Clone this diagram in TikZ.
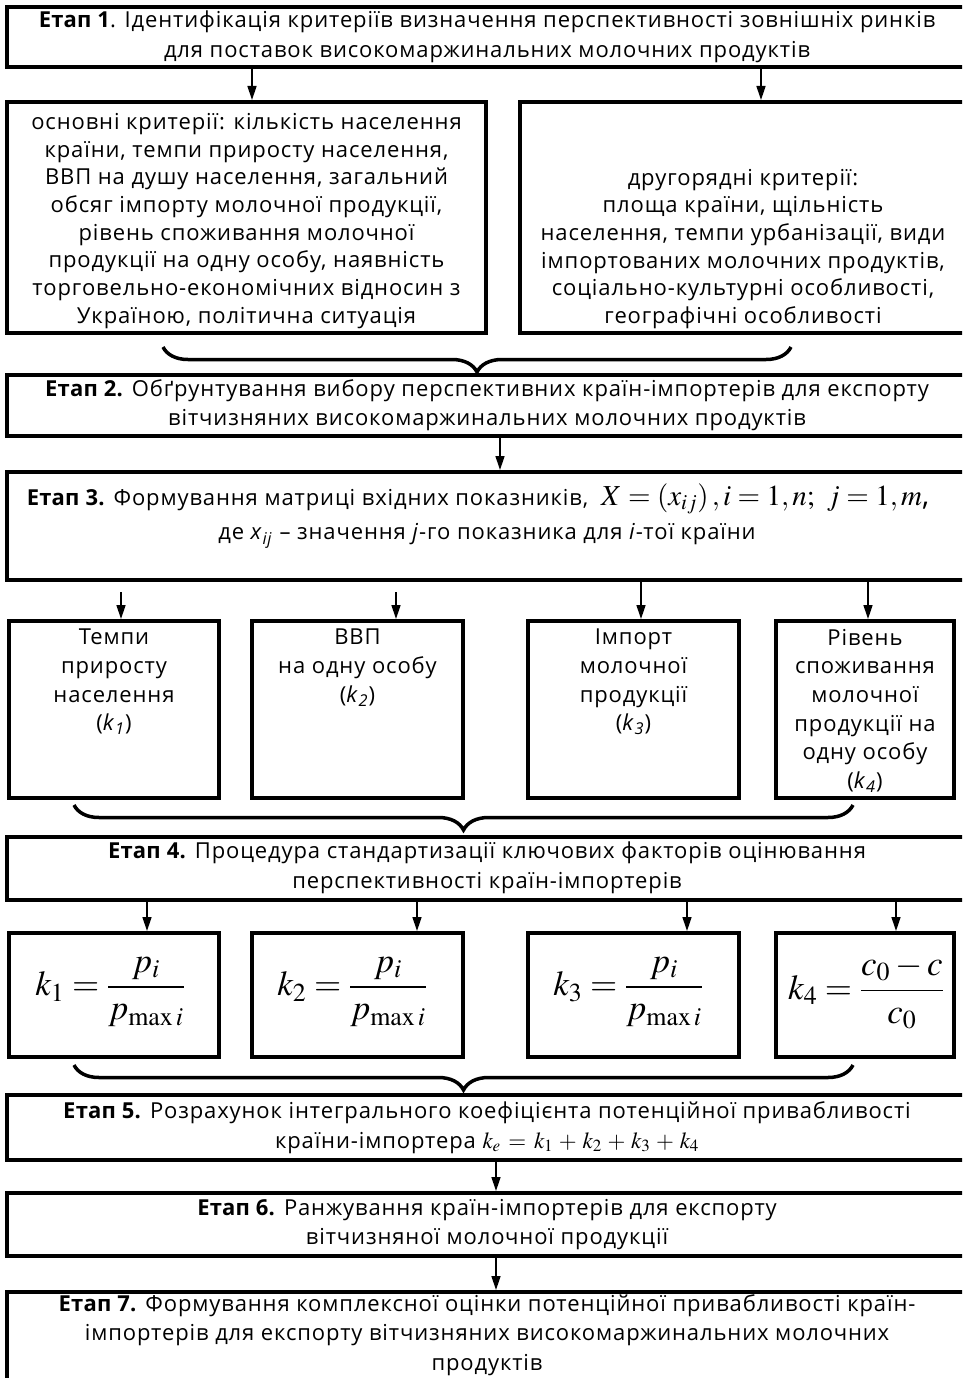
\documentclass[tikz,border=0pt]{standalone}
\usepackage{mathptmx}
\usepackage[no-math]{fontspec}
\setmainfont{Open Sans}[LetterSpace=4,BoldFeatures={LetterSpace=1}]
\usetikzlibrary{arrows.meta,decorations.pathreplacing}
\tikzset{
  box/.style={draw,line width=4pt,rectangle,inner sep=0pt},
  txt/.style={align=center,inner sep=0pt,font=\fontsize{22}{29.5}\selectfont},
  ctxt/.style={align=center,inner sep=0pt,font=\fontsize{22}{27.7}\selectfont},
  ktxt/.style={align=center,inner sep=0pt,anchor=north,font=\fontsize{22}{28.6}\selectfont},
  arr/.style={line width=1.4pt,-{Triangle[length=14pt,width=9pt]}},
  brc/.style={line width=3.5pt,decorate,decoration={brace,amplitude=25pt}},
  frm/.style={inner sep=0pt,font=\fontsize{35}{40}\selectfont},
}
\newcommand{\ksub}[1]{\textit{k}\textsubscript{\textit{#1}}}
\begin{document}
\begin{tikzpicture}[x=1pt,y=-1pt]
\useasboundingbox (0,0) rectangle (962,1378);
\clip (0,0) rectangle (962,1378);
% column coordinates
\coordinate (c1) at (252,0);
\coordinate (c2) at (761,0);
\coordinate (c3) at (500,0);
\coordinate (c4) at (496,0);
% Stage 1
\node[box,txt,minimum width=960pt,minimum height=60pt] (e1) at (487,37)
  {\textbf{Етап 1}. Ідентифікація критеріїв визначення перспективності зовнішніх ринків\\для поставок високомаржинальних молочних продуктів};
\node[box,minimum width=479pt,minimum height=231pt] (lb) at (246.5,217.5) {};
\node[ctxt] (lbt) at (246.5,221) {основні критерії: кількість населення\\країни, темпи приросту населення,\\ВВП на душу населення, загальний\\обсяг імпорту молочної продукції,\\рівень споживання молочної\\продукції на одну особу, наявність\\торговельно-економічних відносин з\\Україною, політична ситуація};
\node[box,minimum width=447pt,minimum height=231pt] (rb) at (743.5,217.5) {};
\node[ctxt] (rbt) at (743,249) {другорядні критерії:\\площа країни, щільність\\населення, темпи урбанізації, види\\імпортованих молочних продуктів,\\соціально-культурні особливості,\\географічні особливості};
\draw[arr] (e1.south -| c1) -- (lb.north -| c1);
\draw[arr] (e1.south -| c2) -- (rb.north -| c2);
% brace 1
\coordinate (b1r) at (791,347);
\coordinate (b1l) at (163,347);
\draw[brc] (b1r) -- (b1l);
% Stage 2
\node[box,txt,minimum width=960pt,minimum height=61pt] (e2) at (487,405)
  {\textbf{Етап 2.} Обґрунтування вибору перспективних країн-імпортерів для експорту\\вітчизняних високомаржинальних молочних продуктів};
% Stage 3
\node[box,minimum width=960pt,minimum height=108pt] (e3) at (487,526) {};
\node[txt] (e3a) at (478,499) {\textbf{Етап 3.} Формування матриці вхідних показників, {\fontsize{29}{32}\selectfont$\;X=\left(x_{ij}\right), i=1,n;\ j=1,m$,}};
\node[txt] (e3b) at (487,536) {де \textit{x}\textsubscript{\textit{ij}} – значення \textit{j}-го показника для \textit{i}-тої країни};
\draw[arr] (e2.south -| c3) -- (e3.north -| c3);
% four indicator boxes
\node[box,minimum width=210pt,minimum height=177pt] (k1) at (114,709.5) {};
\node[box,minimum width=211pt,minimum height=177pt] (k2) at (357.5,709.5) {};
\node[box,minimum width=211pt,minimum height=177pt] (k3) at (633.5,709.5) {};
\node[box,minimum width=178pt,minimum height=177pt] (k4) at (865,709.5) {};
\node[ktxt] (k1t) at (114,629) {Темпи\\приросту\\населення\\(\ksub{1})};
\node[ktxt] (k2t) at (357.5,629) {ВВП\\на одну особу\\(\ksub{2})};
\node[ktxt] (k3t) at (633.5,629) {Імпорт\\молочної\\продукції\\(\ksub{3})};
\node[ktxt] (k4t) at (865,629) {Рівень\\споживання\\молочної\\продукції на\\одну особу\\(\ksub{4})};
\coordinate (s1) at (121,592);
\coordinate (s2) at (396,592);
\coordinate (s3) at (641,0);
\coordinate (s4) at (868,0);
\draw[arr] (s1) -- (s1 |- k1.north);
\draw[arr] (s2) -- (s2 |- k2.north);
\draw[arr] (e3.south -| s3) -- (k3.north -| s3);
\draw[arr] (e3.south -| s4) -- (k4.north -| s4);
% brace 2
\coordinate (b2r) at (853,805);
\coordinate (b2l) at (74,805);
\draw[brc] (b2r) -- (b2l);
% Stage 4
\node[box,txt,minimum width=960pt,minimum height=63pt] (e4) at (487,868)
  {\textbf{Етап 4.} Процедура стандартизації ключових факторів оцінювання\\перспективності країн-імпортерів};
% formula boxes
\node[box,minimum width=210pt,minimum height=124pt] (f1) at (114,995) {};
\node[box,minimum width=211pt,minimum height=124pt] (f2) at (357.5,995) {};
\node[box,minimum width=211pt,minimum height=124pt] (f3) at (633.5,995) {};
\node[box,minimum width=178pt,minimum height=124pt] (f4) at (865,995) {};
\node[frm] (f1t) at (110,992) {$\displaystyle k_1=\frac{p_i}{p_{\max i}}$};
\node[frm] (f2t) at (352,992) {$\displaystyle k_2=\frac{p_i}{p_{\max i}}$};
\node[frm] (f3t) at (628,992) {$\displaystyle k_3=\frac{p_i}{p_{\max i}}$};
\node[frm] (f4t) at (866,992) {$\displaystyle k_4=\frac{c_0-c}{c_0}$};
\coordinate (t1) at (147,902);
\coordinate (t2) at (417,902);
\coordinate (t3) at (687,0);
\coordinate (t4) at (896,0);
\draw[arr] (t1) -- (t1 |- f1.north);
\draw[arr] (t2) -- (t2 |- f2.north);
\draw[arr] (e4.south -| t3) -- (f3.north -| t3);
\draw[arr] (e4.south -| t4) -- (f4.north -| t4);
% brace 3
\coordinate (b3r) at (853,1065);
\coordinate (b3l) at (74,1065);
\draw[brc] (b3r) -- (b3l);
% Stage 5
\node[box,txt,minimum width=960pt,minimum height=65pt] (e5) at (487,1127.5)
  {\textbf{Етап 5.} Розрахунок інтегрального коефіцієнта потенційної привабливості\\країни-імпортера {\fontsize{23}{25}\selectfont$k_e\,=\,k_1\,+\,k_2\,+\,k_3\,+\,k_4$}};
% Stage 6
\node[box,txt,minimum width=960pt,minimum height=63pt] (e6) at (487,1224.5)
  {\textbf{Етап 6.} Ранжування країн-імпортерів для експорту\\вітчизняної молочної продукції};
\draw[arr] (e5.south -| c4) -- (e6.north -| c4);
% Stage 7
\node[box,minimum width=960pt,minimum height=120pt] (e7) at (487,1352) {};
\node[txt,anchor=north] (e7t) at (487,1294) {\textbf{Етап 7.} Формування комплексної оцінки потенційної привабливості країн-\\імпортерів для експорту вітчизняних високомаржинальних молочних\\продуктів};
\draw[arr] (e6.south -| c4) -- (e7.north -| c4);
\end{tikzpicture}
\end{document}
